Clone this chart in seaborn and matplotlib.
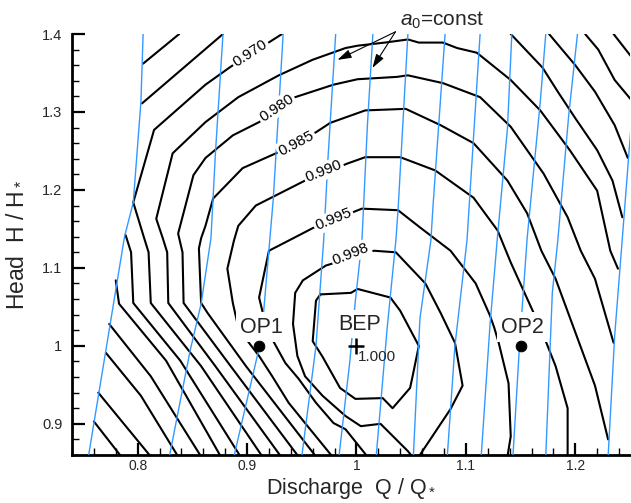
import matplotlib
matplotlib.use("Agg")
import matplotlib.pyplot as plt
import seaborn as sns
import pandas as pd
from matplotlib.ticker import FixedLocator, FuncFormatter

sns.set_theme(style="white")
plt.rcParams['font.family'] = ['Liberation Sans', 'DejaVu Sans']
plt.rcParams['mathtext.fontset'] = 'custom'
plt.rcParams['mathtext.rm'] = 'Liberation Sans'
plt.rcParams['mathtext.it'] = 'Liberation Sans:italic'

# ---------------- data (Q/Q*, H/H*) ----------------
# guide-vane opening lines (a0 = const), blue
a0_lines = {
    "a01": ([0.805, 0.803, 0.796, 0.788, 0.755], [1.400, 1.313, 1.184, 1.140, 0.858]),
    "a02": ([0.878, 0.871, 0.867, 0.858, 0.848, 0.829], [1.400, 1.245, 1.138, 1.054, 0.994, 0.858]),
    "a03": ([0.933, 0.924, 0.915, 0.911, 0.888], [1.400, 1.189, 1.041, 0.997, 0.858]),
    "a04": ([0.981, 0.974, 0.970, 0.963, 0.950], [1.400, 1.241, 1.135, 1.000, 0.858]),
    "a05": ([1.015, 1.010, 1.005, 0.999, 0.994, 0.984], [1.400, 1.283, 1.135, 1.058, 0.981, 0.858]),
    "a06": ([1.047, 1.038, 1.036, 1.028, 1.018], [1.400, 1.174, 1.135, 1.022, 0.858]),
    "a07": ([1.081, 1.070, 1.068, 1.058, 1.052], [1.400, 1.180, 1.135, 1.035, 0.858]),
    "a08": ([1.113, 1.101, 1.090, 1.083], [1.400, 1.135, 1.000, 0.858]),
    "a09": ([1.142, 1.138, 1.129, 1.122, 1.114], [1.400, 1.279, 1.142, 1.026, 0.858]),
    "a10": ([1.173, 1.168, 1.156, 1.149, 1.143], [1.400, 1.313, 1.138, 1.000, 0.858]),
    "a11": ([1.202, 1.194, 1.184, 1.179, 1.173], [1.400, 1.296, 1.135, 1.068, 0.858]),
    "a12": ([1.257, 1.251, 1.243, 1.236, 1.230], [1.400, 1.283, 1.138, 1.013, 0.858]),
}

# efficiency iso-lines, black
eta_lines = {
    "A": ([0.805, 0.838], [1.362, 1.400]),
    "B": ([0.804, 0.878], [1.311, 1.400]),
    "c970": ([0.932, 0.885, 0.862, 0.815, 0.796, 0.806, 0.810, 0.812, 0.858, 0.914],
             [1.400, 1.358, 1.335, 1.277, 1.184, 1.138, 1.120, 1.055, 0.974, 0.858]),
    "c975": ([0.931, 0.871, 0.828, 0.827, 0.823, 0.817, 0.832, 0.862, 0.892, 0.929, 0.960, 0.990,
              1.001, 1.026, 1.047, 1.057, 1.079, 1.092, 1.110, 1.141, 1.168, 1.195, 1.220, 1.232, 1.239],
             [0.858, 0.974, 1.055, 1.120, 1.138, 1.163, 1.247, 1.287, 1.319, 1.347, 1.367, 1.382,
              1.385, 1.389, 1.393, 1.389, 1.389, 1.382, 1.376, 1.341, 1.302, 1.251, 1.199, 1.122, 1.099]),
    "c980": ([0.947, 0.885, 0.842, 0.841, 0.837, 0.851, 0.862, 0.887, 0.911, 0.944, 0.979, 1.001,
              1.037, 1.047, 1.079, 1.113, 1.141, 1.171, 1.193, 1.205, 1.218, 1.235],
             [0.858, 0.974, 1.055, 1.120, 1.144, 1.219, 1.241, 1.270, 1.287, 1.319, 1.335, 1.342,
              1.345, 1.347, 1.337, 1.319, 1.281, 1.221, 1.165, 1.122, 1.086, 1.004]),
    "c985": ([0.963, 0.899, 0.864, 0.858, 0.856, 0.858, 0.862, 0.869, 0.896, 0.928, 0.963, 0.976,
              1.008, 1.045, 1.077, 1.107, 1.138, 1.156, 1.169, 1.182, 1.218, 1.230],
             [0.858, 0.974, 1.042, 1.055, 1.125, 1.138, 1.154, 1.189, 1.228, 1.248, 1.274, 1.286,
              1.302, 1.304, 1.283, 1.260, 1.212, 1.170, 1.122, 1.086, 0.949, 0.880]),
    "c990": ([0.978, 0.953, 0.938, 0.923, 0.911, 0.899, 0.891, 0.887, 0.882, 0.888, 0.892, 0.908,
              0.953, 0.992, 1.008, 1.040, 1.072, 1.107, 1.129, 1.141, 1.163, 1.173, 1.182, 1.193, 1.193],
             [0.858, 0.901, 0.927, 0.961, 0.987, 1.009, 1.030, 1.055, 1.099, 1.135, 1.154, 1.180,
              1.212, 1.234, 1.242, 1.242, 1.225, 1.190, 1.148, 1.107, 1.039, 1.006, 0.974, 0.920, 0.858]),
    "c995": ([1.010, 0.990, 0.979, 0.963, 0.947, 0.935, 0.924, 0.915, 0.911, 0.920, 0.938, 0.960,
              1.005, 1.038, 1.058, 1.086, 1.109, 1.122, 1.126, 1.130, 1.139, 1.141, 1.138],
             [0.858, 0.893, 0.901, 0.927, 0.958, 0.978, 1.006, 1.039, 1.062, 1.122, 1.135, 1.151,
              1.176, 1.174, 1.152, 1.122, 1.080, 1.039, 1.023, 1.004, 0.952, 0.884, 0.858]),
    "c998": ([1.051, 1.047, 1.022, 1.004, 0.990, 0.969, 0.953, 0.946, 0.942, 0.944, 0.951, 0.972,
              1.016, 1.036, 1.063, 1.077, 1.090, 1.097, 1.086, 1.057],
             [0.858, 0.865, 0.900, 0.897, 0.910, 0.936, 0.961, 0.987, 1.028, 1.068, 1.084, 1.103,
              1.122, 1.120, 1.080, 1.042, 1.004, 0.949, 0.919, 0.858]),
    "c1000": ([0.967, 0.995, 1.001, 1.031, 1.040, 1.057, 1.051, 1.049, 1.033, 1.024, 0.999, 0.985,
               0.969, 0.960, 0.963, 0.967],
              [1.066, 1.068, 1.073, 1.062, 1.045, 1.000, 0.959, 0.946, 0.920, 0.933, 0.932, 0.946,
               0.986, 1.006, 1.058, 1.066]),
    "L2": ([0.789, 0.794, 0.796, 0.839, 0.894], [1.142, 1.120, 1.055, 0.981, 0.858]),
    "L1": ([0.780, 0.783, 0.826, 0.876], [1.084, 1.054, 0.981, 0.858]),
    "F1": ([0.774, 0.812, 0.858], [1.028, 0.961, 0.858]),
    "F2": ([0.771, 0.803, 0.837], [0.991, 0.936, 0.858]),
    "F3": ([0.764, 0.812], [0.940, 0.858]),
    "F4": ([0.760, 0.785], [0.903, 0.858]),
    "D1": ([1.141, 1.170, 1.184, 1.200, 1.220, 1.234, 1.243], [1.400, 1.357, 1.326, 1.292, 1.251, 1.212, 1.165]),
    "D2": ([1.176, 1.200, 1.218, 1.236, 1.248], [1.400, 1.360, 1.326, 1.283, 1.241]),
    "D3": ([1.209, 1.221, 1.236, 1.255], [1.400, 1.380, 1.341, 1.309]),
    "D4": ([1.235, 1.255], [1.400, 1.364]),
}

# contour labels: text, Q, H, angle
label_text = ["0.970", "0.980", "0.985", "0.990", "0.995", "0.998"]
label_q = [0.903, 0.927, 0.945, 0.970, 0.979, 0.995]
label_h = [1.375, 1.305, 1.260, 1.224, 1.162, 1.118]
label_rot = [33, 34, 28, 22, 22, 22]

op_names = ["OP1", "OP2"]
op_q = [0.911, 1.150]
op_h = [1.000, 1.000]
bep_q, bep_h = 1.000, 1.000

x_major = [0.8, 0.9, 1.0, 1.1, 1.2]
y_major = [0.9, 1.0, 1.1, 1.2, 1.3, 1.4]

# ---------------- figure ----------------
fig = plt.figure(figsize=(6.31, 5.03), dpi=100)
ax = fig.add_axes([0.1141, 0.0954, 0.8843, 0.8370])

def to_df(d):
    rows = []
    for name, (q, h) in d.items():
        for i, (qq, hh) in enumerate(zip(q, h)):
            rows.append({"line": name, "i": i, "Q": qq, "H": hh})
    return pd.DataFrame(rows)

sns.lineplot(data=to_df(eta_lines), x="Q", y="H", units="line", estimator=None,
             sort=False, color="black", lw=1.5, ax=ax, zorder=2)
sns.lineplot(data=to_df(a0_lines), x="Q", y="H", units="line", estimator=None,
             sort=False, color="#3399ff", lw=1.0, ax=ax, zorder=3)

box = dict(boxstyle="square,pad=0.12", fc="white", ec="none")
for t, q, h, r in zip(label_text, label_q, label_h, label_rot):
    ax.text(q, h, t, rotation=r, rotation_mode="anchor", ha="center", va="center",
            fontsize=11, color="black", bbox=box, zorder=6)

ax.text(1.019, 0.986, "1.000", ha="center", va="center", fontsize=11, zorder=6)
ax.text(1.003, 1.028, "BEP", ha="center", va="center", fontsize=15.5,
        bbox=dict(boxstyle="square,pad=0.15", fc="white", ec="none"), zorder=6)
sns.scatterplot(x=[bep_q], y=[bep_h], marker="+", s=140, color="black",
                linewidth=1.8, ax=ax, zorder=7)

for n, q, h in zip(op_names, op_q, op_h):
    ax.text(q + 0.002, h + 0.024, n, ha="center", va="center", fontsize=15.5,
            bbox=dict(boxstyle="square,pad=0.2", fc="white", ec="none"), zorder=6)
sns.scatterplot(x=op_q, y=op_h, marker="o", s=60, color="black", edgecolor="black", ax=ax, zorder=7)

# a0 = const annotation
ax.text(1.0785, 1.417, "$a_0$=const", ha="center", va="center", fontsize=15, clip_on=False)
for tip in [(0.9827, 1.3668), (1.0146, 1.3565)]:
    ax.annotate("", xy=tip, xytext=(1.0356, 1.4028), annotation_clip=False,
                arrowprops=dict(arrowstyle="-|>,head_length=0.7,head_width=0.22",
                                color="black", lw=0.8, shrinkA=0, shrinkB=0))

ax.set_xlim(0.74, 1.25)
ax.set_ylim(0.86, 1.40)
ax.xaxis.set_major_locator(FixedLocator(x_major))
ax.yaxis.set_major_locator(FixedLocator(y_major))
ax.xaxis.set_minor_locator(FixedLocator([0.74 + 0.02 * i for i in range(26)]))
ax.yaxis.set_minor_locator(FixedLocator([0.86 + 0.02 * i for i in range(28)]))
fmt = FuncFormatter(lambda v, p: f"{v:g}")
ax.xaxis.set_major_formatter(fmt)
ax.yaxis.set_major_formatter(fmt)

for s in ["top", "right"]:
    ax.spines[s].set_visible(False)
for s in ["left", "bottom"]:
    ax.spines[s].set_linewidth(2.0)
    ax.spines[s].set_color("black")
ax.tick_params(which="major", direction="in", length=9, width=1.6, labelsize=10.5,
               color="black", bottom=True, left=True)
ax.tick_params(axis="x", which="major", pad=3, labelsize=10)
ax.tick_params(axis="y", which="major", pad=7)
ax.tick_params(which="minor", direction="in", length=5, width=1.0, color="black",
               bottom=True, left=True)
ax.grid(False)
ax.set_facecolor("white")

ax.set_xlabel("Discharge  Q / Q$_*$", fontsize=15.5, va="top")
ax.xaxis.set_label_coords(0.5, -0.050)
ax.set_ylabel("Head  H / H$_*$", fontsize=16.5, va="center")
ax.yaxis.set_label_coords(-0.103, 0.5)

fig.savefig("out.png", dpi=100, facecolor="white")
